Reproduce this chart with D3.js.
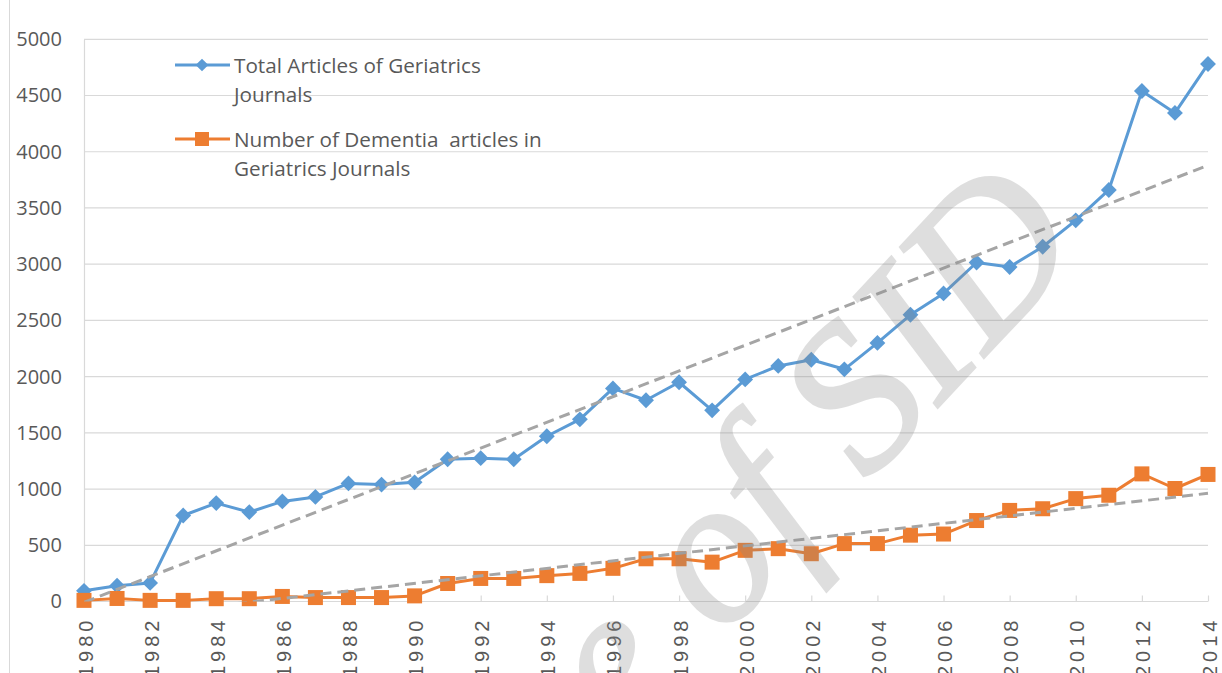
<!DOCTYPE html>
<html>
<head>
<meta charset="utf-8">
<script src="https://cdn.jsdelivr.net/npm/d3@7"></script>
<style>
    body { margin: 0; background: #fff; }
    text { font-family: "Open Sans", "Liberation Sans", Arial, sans-serif; fill: #595959; }
</style>
</head>
<body>
<div class="chart"></div>
<script>
const years = [1980, 1981, 1982, 1983, 1984, 1985, 1986, 1987, 1988, 1989,
    1990, 1991, 1992, 1993, 1994, 1995, 1996, 1997, 1998, 1999,
    2000, 2001, 2002, 2003, 2004, 2005, 2006, 2007, 2008, 2009,
    2010, 2011, 2012, 2013, 2014]
const totalArticles = [95, 140, 165, 765, 875, 795, 890, 930, 1050, 1040,
    1060, 1265, 1275, 1265, 1470, 1620, 1895, 1790, 1950, 1700,
    1975, 2095, 2150, 2065, 2300, 2550, 2740, 3015, 2975, 3155,
    3390, 3660, 4540, 4345, 4780]
const dementiaArticles = [10, 27, 10, 10, 25, 25, 45, 35, 35, 35,
    50, 160, 205, 205, 230, 250, 295, 380, 380, 350,
    455, 470, 425, 515, 515, 590, 600, 720, 810, 825,
    915, 945, 1135, 1005, 1130]
const yTicks = [0, 500, 1000, 1500, 2000, 2500, 3000, 3500, 4000, 4500, 5000]
const xTicks = [1980, 1982, 1984, 1986, 1988, 1990, 1992, 1994, 1996, 1998,
    2000, 2002, 2004, 2006, 2008, 2010, 2012, 2014]
const seriesNames = [["Total Articles of Geriatrics", "Journals"],
    ["Number of Dementia  articles in", "Geriatrics Journals"]]
const seriesColors = ["#5B9BD5", "#ED7D31"]

const w = 1222, h = 673;
const plot = { left: 84, right: 1208, top: 39.3, bottom: 601.5 };

const svg = d3.select(".chart").append("svg")
    .attr("width", w)
    .attr("height", h);

// chart border on the left
svg.append("line")
    .attr("x1", 9.5).attr("x2", 9.5)
    .attr("y1", 0).attr("y2", h)
    .attr("stroke", "#d9d9d9");

const xScale = d3.scaleLinear().domain([1980, 2014]).range([plot.left, plot.right]);
const yScale = d3.scaleLinear().domain([0, 5000]).range([plot.bottom, plot.top]);

// gridlines
svg.append("g")
    .selectAll("line")
    .data(yTicks)
    .enter().append("line")
    .attr("x1", plot.left).attr("x2", plot.right)
    .attr("y1", d => yScale(d)).attr("y2", d => yScale(d))
    .attr("stroke", "#d9d9d9")
    .attr("stroke-width", 1.2);

// y axis
const yAxis = d3.axisLeft(yScale).tickValues(yTicks).tickSize(0).tickPadding(22)
    .tickFormat(d3.format("d"));
svg.append("g")
    .attr("transform", `translate(${plot.left},0)`)
    .call(yAxis)
    .call(g => g.select(".domain").attr("stroke", "#d9d9d9").attr("stroke-width", 1.2))
    .call(g => g.selectAll("text")
        .style("font-size", "20px")
        .style("fill", "#595959"));

// x axis, ticks point inside
const xAxis = d3.axisTop(xScale).tickValues(xTicks).tickSize(6).tickFormat(d3.format("d"));
const xg = svg.append("g")
    .attr("transform", `translate(0,${plot.bottom})`)
    .call(xAxis);
xg.select(".domain").attr("d", `M${plot.left},0H${plot.right}`).attr("stroke", "#d9d9d9").attr("stroke-width", 1.2);
xg.selectAll(".tick line").attr("stroke", "#d9d9d9").attr("stroke-width", 1.2);
xg.selectAll(".tick text")
    .attr("transform", "rotate(-90)")
    .attr("x", -15)
    .attr("y", 1)
    .attr("dy", "0.35em")
    .style("text-anchor", "end")
    .style("font-family", "'Liberation Sans', Arial, sans-serif")
    .style("font-size", "20px")
    .style("letter-spacing", "4px")
    .style("fill", "#595959");

// series
const line = d3.line()
    .x((d, i) => xScale(years[i]))
    .y(d => yScale(d));

svg.append("path")
    .datum(totalArticles)
    .attr("d", line)
    .attr("fill", "none")
    .attr("stroke", seriesColors[0])
    .attr("stroke-width", 3)
    .attr("stroke-linejoin", "round");

svg.append("g")
    .selectAll("rect")
    .data(totalArticles)
    .enter().append("rect")
    .attr("x", -5.6).attr("y", -5.6)
    .attr("width", 11.2).attr("height", 11.2)
    .attr("transform", (d, i) => `translate(${xScale(years[i])},${yScale(d)}) rotate(45)`)
    .attr("fill", seriesColors[0]);

svg.append("path")
    .datum(dementiaArticles)
    .attr("d", line)
    .attr("fill", "none")
    .attr("stroke", seriesColors[1])
    .attr("stroke-width", 3)
    .attr("stroke-linejoin", "round");

svg.append("g")
    .selectAll("rect")
    .data(dementiaArticles)
    .enter().append("rect")
    .attr("x", (d, i) => xScale(years[i]) - 7.5)
    .attr("y", d => yScale(d) - 7.5)
    .attr("width", 15).attr("height", 15)
    .attr("fill", seriesColors[1]);

// linear trendlines, clipped to the plot area
function linearFit(values) {
    const xs = years.map(y => y - 1980);
    const mx = d3.mean(xs), my = d3.mean(values);
    const sxy = d3.sum(xs, (x, i) => (x - mx) * (values[i] - my));
    const sxx = d3.sum(xs, x => (x - mx) * (x - mx));
    const slope = sxy / sxx;
    return x => my + slope * (x - 1980 - mx);
}

svg.append("clipPath").attr("id", "plotclip")
    .append("rect")
    .attr("x", plot.left).attr("y", plot.top)
    .attr("width", plot.right - plot.left + 2)
    .attr("height", plot.bottom - plot.top);

[totalArticles, dementiaArticles].forEach(values => {
    const fit = linearFit(values);
    svg.append("line")
        .attr("clip-path", "url(#plotclip)")
        .attr("x1", xScale(1980)).attr("y1", yScale(fit(1980)))
        .attr("x2", xScale(2014)).attr("y2", yScale(fit(2014)))
        .attr("stroke", "#a5a5a5")
        .attr("stroke-width", 3)
        .attr("stroke-dasharray", "11,6");
});

// legend
const legend = svg.append("g").attr("id", "legend");
const legendRows = [65, 139];
legendRows.forEach((ly, i) => {
    legend.append("line")
        .attr("x1", 175).attr("x2", 230)
        .attr("y1", ly).attr("y2", ly)
        .attr("stroke", seriesColors[i])
        .attr("stroke-width", 3);
    if (i === 0) {
        legend.append("rect")
            .attr("x", -4.5).attr("y", -4.5)
            .attr("width", 9).attr("height", 9)
            .attr("transform", `translate(202,${ly}) rotate(45)`)
            .attr("fill", seriesColors[i]);
    } else {
        legend.append("rect")
            .attr("x", 195).attr("y", ly - 7)
            .attr("width", 14).attr("height", 14)
            .attr("fill", seriesColors[i]);
    }
    seriesNames[i].forEach((t, k) => {
        legend.append("text")
            .attr("x", 234)
            .attr("y", ly + 8 + k * 29)
            .attr("xml:space", "preserve")
            .style("white-space", "pre")
            .style("font-size", "20.7px")
            .text(t);
    });
});

// watermark
svg.append("text")
    .attr("transform", "translate(1088,246) rotate(-47)")
    .attr("text-anchor", "end")
    .style("font-family", "'Liberation Serif', 'DejaVu Serif', serif")
    .style("font-style", "italic")
    .style("font-size", "208px")
    .style("fill", "#888")
    .style("stroke", "#888")
    .style("stroke-width", 3)
    .style("opacity", 0.27)
    .text("Archive of SID");
</script>
</body>
</html>
